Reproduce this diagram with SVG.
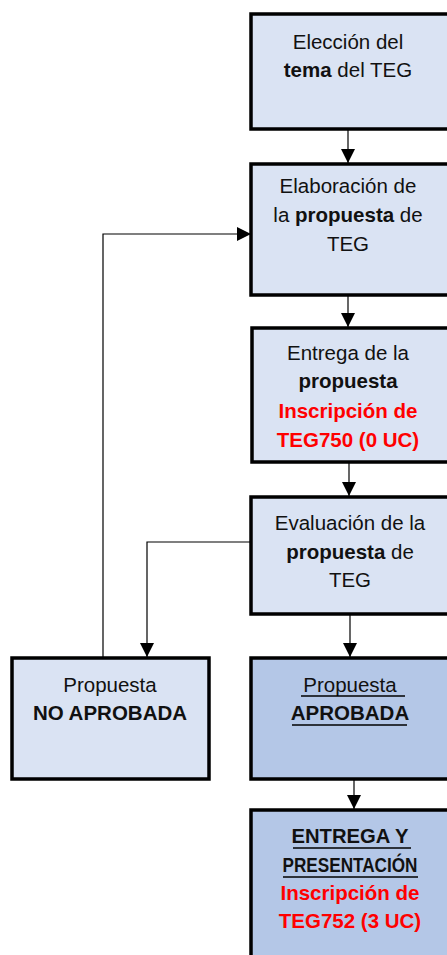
<svg xmlns="http://www.w3.org/2000/svg" width="447" height="955" viewBox="0 0 447 955">
<style>
.box{stroke:#000;stroke-width:3.5}
.light{fill:#DAE3F3}
.dark{fill:#B4C7E7}
text{font-family:"Liberation Sans",Arial,sans-serif;font-size:20.5px;fill:#111;text-anchor:middle}
.b{font-weight:bold}
.red{fill:#FF0000;font-weight:bold}
.c{fill:none;stroke:#000;stroke-width:1.2}
.ul{stroke:#000;stroke-width:1.5}
</style>
<defs>
<marker id="ah" markerWidth="14" markerHeight="14" refX="14" refY="7" orient="auto" markerUnits="userSpaceOnUse">
<path d="M0,0 L14,7 L0,14 Z" fill="#000"/>
</marker>
</defs>
<g id="connectors">
<path class="c" d="M348,130 V163" marker-end="url(#ah)"/>
<path class="c" d="M348,296 V327" marker-end="url(#ah)"/>
<path class="c" d="M349,463 V496" marker-end="url(#ah)"/>
<path class="c" d="M350,614 V657" marker-end="url(#ah)"/>
<path class="c" d="M354,780 V809" marker-end="url(#ah)"/>
<path class="c" d="M251,542 H147 V657" marker-end="url(#ah)"/>
<path class="c" d="M103,657 V234 H251" marker-end="url(#ah)"/>
</g>
<g id="eleccion">
<rect class="box light" x="251" y="14" width="200" height="115"/>
<text x="348" y="49">Elección del</text>
<text x="348" y="77"><tspan class="b">tema</tspan> del TEG</text>
</g>
<g id="elaboracion">
<rect class="box light" x="251" y="164" width="200" height="131"/>
<text x="348" y="193">Elaboración de</text>
<text x="348" y="222">la <tspan class="b">propuesta</tspan> de</text>
<text x="348" y="251">TEG</text>
</g>
<g id="entrega">
<rect class="box light" x="252" y="328" width="200" height="134"/>
<text x="348" y="360">Entrega de la</text>
<text x="348" y="388" class="b">propuesta</text>
<text x="348" y="418" class="red">Inscripción de</text>
<text x="348" y="447" class="red">TEG750 (0 UC)</text>
</g>
<g id="evaluacion">
<rect class="box light" x="251" y="497" width="200" height="117"/>
<text x="350" y="530">Evaluación de la</text>
<text x="350" y="559"><tspan class="b">propuesta</tspan> de</text>
<text x="350" y="587">TEG</text>
</g>
<g id="no-aprobada">
<rect class="box light" x="12" y="658" width="197" height="121"/>
<text x="110" y="692">Propuesta</text>
<text x="110" y="720" class="b">NO APROBADA</text>
</g>
<g id="aprobada">
<rect class="box dark" x="251" y="658" width="200" height="121"/>
<text x="350" y="692">Propuesta</text>
<line class="ul" x1="301" y1="696" x2="405" y2="696"/>
<text x="350" y="720" class="b">APROBADA</text>
<line class="ul" x1="292" y1="725" x2="407" y2="725"/>
</g>
<g id="entrega-final">
<rect class="box dark" x="251" y="810" width="200" height="160"/>
<text x="350" y="843" class="b" textLength="117" lengthAdjust="spacingAndGlyphs">ENTREGA Y</text>
<line class="ul" x1="293" y1="848" x2="411" y2="848"/>
<text x="350" y="872" class="b" textLength="135" lengthAdjust="spacingAndGlyphs">PRESENTACIÓN</text>
<line class="ul" x1="283" y1="877" x2="418" y2="877"/>
<text x="350" y="900" class="red">Inscripción de</text>
<text x="350" y="928" class="red">TEG752 (3 UC)</text>
</g>
</svg>
